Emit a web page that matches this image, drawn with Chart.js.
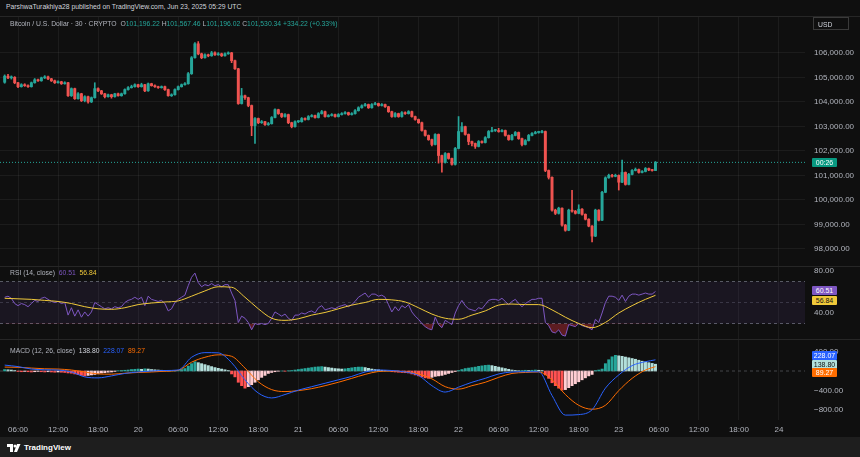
<!DOCTYPE html>
<html>
<head>
<meta charset="utf-8">
<script src="https://cdn.jsdelivr.net/npm/chart.js@4.4.1/dist/chart.umd.min.js"></script>
<style>
  body { margin: 0; width: 860px; height: 457px; overflow: hidden; position: relative;
         background: #0f0f0f; font-family: "Liberation Sans", Arial, sans-serif; }
  .pane { position: absolute; left: 0; }
  canvas { display: block; }
  .txt { position: absolute; white-space: nowrap; font-size: 6.8px; color: #b2b5be; }
  .g { color: #26a69a; }
  .sep { position: absolute; left: 0; width: 860px; height: 1px; background: #262626; }
  .badge { position: absolute; left: 812px; width: 25px; height: 9px; line-height: 9px;
           font-size: 7px; text-align: center; color: #fff; border-radius: 1px; }
</style>
</head>
<body>

<div class="txt" style="left:6px;top:3px;color:#d1d4dc">ParshwaTurakhiya28 published on TradingView.com, Jun 23, 2025 05:29 UTC</div>
<div class="sep" style="top:16px"></div>

<div class="pane" style="top:17px"><canvas id="main" width="860" height="249"></canvas></div>
<div class="sep" style="top:266px"></div>
<div class="pane" style="top:267px"><canvas id="rsi" width="860" height="72"></canvas></div>
<div class="sep" style="top:339px"></div>
<div class="pane" style="top:340px"><canvas id="macd" width="860" height="97"></canvas></div>

<div style="position:absolute;left:0;top:437px;width:860px;height:20px;background:#1e1e1e"></div>

<div class="txt" style="left:10px;top:20px">Bitcoin / U.S. Dollar · 30 · CRYPTO &nbsp;O<span class="g">101,196.22</span> H<span class="g">101,567.46</span> L<span class="g">101,196.02</span> C<span class="g">101,530.34</span> <span class="g">+334.22 (+0.33%)</span></div>
<div class="txt" style="left:813px;top:17px;width:36px;height:13px;line-height:13px;border:1px solid #3a3a3a;padding-left:4px;box-sizing:border-box;color:#d1d4dc">USD</div>
<div class="badge" style="top:158px;background:#089981">00:26</div>

<div class="txt" style="left:10px;top:269px">RSI (14, close) &nbsp;<span style="color:#7e57c2">60.51</span> &nbsp;<span style="color:#f0c93a">56.84</span></div>
<div class="badge" style="top:286px;background:#7e57c2">60.51</div>
<div class="badge" style="top:295.5px;background:#f0c93a;color:#131313">56.84</div>

<div class="txt" style="left:10px;top:347px">MACD (12, 26, close) &nbsp;<span style="color:#d1d4dc">138.80</span> &nbsp;<span style="color:#2962ff">228.07</span> &nbsp;<span style="color:#ff6d00">89.27</span></div>
<div class="badge" style="top:351px;background:#2962ff">228.07</div>
<div class="badge" style="top:359.5px;background:#b2dfdb;color:#131313">138.80</div>
<div class="badge" style="top:368px;background:#ff6d00">89.27</div>

<div style="position:absolute;left:7px;top:443px;display:flex;align-items:center;gap:3px">
  <svg width="14" height="8" viewBox="0 0 14 8"><path d="M0 0h6v8H3V3H0z" fill="#fff"/><circle cx="8" cy="2" r="1.5" fill="#fff"/><path d="M10 0h3.5l-3.5 8H7z" fill="#fff"/></svg>
  <span style="color:#fff;font-weight:bold;font-size:8px">TradingView</span>
</div>

<script>
// 30-minute candles, Jun 19 04:00 .. Jun 23 05:30 (UTC)
const opens = [
  104800, 105050, 104980, 105000, 104780, 104620, 104700, 104660, 104620, 104780,
  104900, 104860, 104980, 105020, 104940, 104860, 104780, 104820, 104740, 104780,
  104250, 104540, 104130, 104330, 104050, 104210, 104000, 104170, 104540, 104450,
  104330, 104210, 104290, 104210, 104330, 104250, 104330, 104500, 104580, 104620,
  104700, 104620, 104700, 104450, 104740, 104660, 104620, 104580, 104620, 104500,
  104250, 104290, 104500, 104620, 104700, 104740, 105150, 105800, 106370, 105960,
  105800, 105920, 105880, 106000, 105920, 105960, 105880, 105960, 106000, 105680,
  105350, 103930, 104250, 104170, 103850, 103030, 103320, 103150, 103190, 103070,
  103110, 103360, 103680, 103520, 103400, 103480, 103150, 102990, 103190, 103190,
  103320, 103280, 103400, 103440, 103360, 103520, 103600, 103400, 103440, 103480,
  103400, 103480, 103520, 103560, 103480, 103520, 103640, 103760, 103840, 103890,
  103760, 103890, 103930, 103850, 103890, 103800, 103600, 103400, 103520, 103400,
  103560, 103520, 103600, 103400, 103280, 103150, 102830, 102630, 102460, 102260,
  102670, 101810, 101530, 101890, 101690, 101450, 102100, 102790, 102990, 102670,
  102380, 102300, 102180, 102380, 102340, 102540, 102790, 102830, 102830, 102790,
  102830, 102630, 102460, 102630, 102750, 102500, 102260, 102420, 102630, 102710,
  102750, 102750, 102790, 101200, 100920, 99580, 99450, 99660, 98970, 98760,
  99580, 99540, 99450, 99620, 99410, 99210, 98930, 98520, 99580, 99170,
  100310, 100900, 101000, 100960, 101000, 100720, 101120, 100630, 101040, 101200,
  101240, 101120, 101160, 101280, 101220, 101196.22
];
const highs = [
  105100, 105120, 105060, 105030, 104800, 104740, 104740, 104690, 104810, 104950,
  104930, 105010, 105070, 105050, 104960, 104890, 104860, 104840, 104820, 104800,
  104570, 104560, 104380, 104350, 104250, 104240, 104200, 104780, 104570, 104470,
  104350, 104320, 104310, 104350, 104360, 104360, 104530, 104620, 104680, 104740,
  104720, 104760, 104720, 104770, 104760, 104690, 104640, 104650, 104640, 104520,
  104330, 104530, 104650, 104730, 104790, 105200, 105850, 106420, 106460, 105990,
  105960, 105950, 106060, 106040, 106010, 105990, 106000, 106040, 106020, 105700,
  105370, 104550, 104280, 104190, 103870, 103360, 103340, 103240, 103210, 103160,
  103400, 103720, 103700, 103540, 103520, 103500, 103170, 103230, 103240, 103360,
  103350, 103440, 103480, 103460, 103560, 103650, 103620, 103480, 103520, 103500,
  103520, 103560, 103600, 103580, 103560, 103680, 103800, 103880, 103940, 103910,
  103930, 103980, 103950, 103930, 103910, 103820, 103620, 103560, 103540, 103600,
  103590, 103640, 103620, 103420, 103300, 103170, 102850, 102650, 102480, 102700,
  102690, 101830, 101930, 101910, 101710, 102140, 103400, 103150, 103010, 102690,
  102400, 102320, 102420, 102410, 102580, 102830, 102960, 102880, 102920, 102870,
  102850, 102650, 102670, 102790, 102770, 102520, 102460, 102670, 102750, 102800,
  102800, 102840, 102810, 101220, 100940, 99620, 99700, 99680, 99000, 99620,
  100390, 99570, 99800, 99640, 99430, 99230, 98950, 99620, 99600, 100350,
  100940, 101050, 101040, 101050, 101020, 101620, 101140, 101080, 101240, 101300,
  101260, 101200, 101320, 101300, 101250, 101567.46
];
const lows = [
  104760, 104950, 104930, 104740, 104580, 104600, 104630, 104590, 104600, 104760,
  104830, 104840, 104950, 104910, 104830, 104750, 104760, 104710, 104720, 104220,
  104220, 104100, 104110, 104010, 104000, 103950, 103970, 104150, 104420, 104300,
  104160, 104190, 104150, 104190, 104230, 104230, 104310, 104480, 104560, 104600,
  104590, 104600, 104420, 104430, 104640, 104590, 104550, 104560, 104470, 104230,
  104220, 104270, 104480, 104600, 104680, 104720, 105120, 105780, 105920, 105760,
  105780, 105840, 105860, 105890, 105900, 105850, 105860, 105940, 105600, 105320,
  103900, 103910, 104100, 103800, 102620, 102300, 103110, 103120, 103040, 103040,
  103090, 103340, 103490, 103360, 103380, 103110, 102940, 102970, 103150, 103170,
  103250, 103260, 103380, 103330, 103340, 103500, 103370, 103380, 103420, 103370,
  103380, 103460, 103500, 103450, 103460, 103500, 103620, 103740, 103820, 103730,
  103740, 103870, 103820, 103830, 103770, 103570, 103370, 103380, 103370, 103380,
  103490, 103500, 103370, 103250, 103120, 102800, 102600, 102430, 102200, 102240,
  101500, 101130, 101500, 101660, 101420, 101420, 102080, 102770, 102640, 102250,
  102200, 102100, 102160, 102310, 102320, 102520, 102770, 102790, 102760, 102770,
  102600, 102430, 102440, 102610, 102470, 102200, 102240, 102400, 102610, 102690,
  102720, 102730, 101150, 100850, 99540, 99400, 99420, 98930, 98720, 98740,
  99500, 99420, 99430, 99380, 99180, 98900, 98280, 98500, 99140, 99150,
  100290, 100880, 100930, 100940, 100400, 100700, 100600, 100610, 101020, 101180,
  101090, 101100, 101140, 101190, 101170, 101196.02
];
const closes = [
  105050, 104980, 105000, 104780, 104620, 104700, 104660, 104620, 104780, 104900,
  104860, 104980, 105020, 104940, 104860, 104780, 104820, 104740, 104780, 104250,
  104540, 104130, 104330, 104050, 104210, 104000, 104170, 104540, 104450, 104330,
  104210, 104290, 104210, 104330, 104250, 104330, 104500, 104580, 104620, 104700,
  104620, 104700, 104450, 104740, 104660, 104620, 104580, 104620, 104500, 104250,
  104290, 104500, 104620, 104700, 104740, 105150, 105800, 106370, 105960, 105800,
  105920, 105880, 106000, 105920, 105960, 105880, 105960, 106000, 105680, 105350,
  103930, 104250, 104170, 103850, 103030, 103320, 103150, 103190, 103070, 103110,
  103360, 103680, 103520, 103400, 103480, 103150, 102990, 103190, 103190, 103320,
  103280, 103400, 103440, 103360, 103520, 103600, 103400, 103440, 103480, 103400,
  103480, 103520, 103560, 103480, 103520, 103640, 103760, 103840, 103890, 103760,
  103890, 103930, 103850, 103890, 103800, 103600, 103400, 103520, 103400, 103560,
  103520, 103600, 103400, 103280, 103150, 102830, 102630, 102460, 102260, 102670,
  101810, 101530, 101890, 101690, 101450, 102100, 102790, 102990, 102670, 102380,
  102300, 102180, 102380, 102340, 102540, 102790, 102830, 102830, 102790, 102830,
  102630, 102460, 102630, 102750, 102500, 102260, 102420, 102630, 102710, 102750,
  102750, 102790, 101200, 100920, 99580, 99450, 99660, 98970, 98760, 99580,
  99540, 99450, 99620, 99410, 99210, 98930, 98520, 99580, 99170, 100310,
  100900, 101000, 100960, 101000, 100720, 101120, 100630, 101040, 101200, 101240,
  101120, 101160, 101280, 101220, 101196.22, 101530.34
];

// RSI (14) per candle
const rsi = [
  55, 56, 54, 49, 47, 49, 48, 46, 49, 52,
  51, 54, 55, 53, 51, 50, 51, 49, 50, 38,
  45, 37, 43, 36, 41, 37, 41, 50, 48, 46,
  44, 45, 44, 46, 45, 46, 50, 52, 53, 55,
  53, 55, 47, 56, 53, 52, 51, 52, 49, 42,
  44, 50, 53, 55, 57, 66, 74, 78, 69, 65,
  67, 66, 68, 66, 67, 65, 67, 67, 59, 52,
  31, 37, 35, 31, 24, 30, 29, 30, 29, 30,
  35, 41, 39, 37, 39, 35, 33, 38, 38, 40,
  39, 41, 42, 40, 45, 47, 43, 44, 45, 44,
  46, 47, 48, 46, 48, 51, 55, 57, 59, 55,
  58, 58, 56, 57, 55, 48, 41, 46, 42, 47,
  45, 48, 41, 37, 34, 30, 27, 25, 24, 36,
  29, 26, 33, 31, 29, 40, 47, 52, 47, 44,
  43, 42, 45, 44, 48, 52, 53, 53, 52, 54,
  51, 48, 51, 53, 49, 46, 49, 51, 53, 53,
  54, 54, 31, 28, 22, 21, 24, 19, 18, 29,
  28, 27, 30, 28, 27, 26, 24, 34, 31, 40,
  50, 56, 56, 55, 52, 57, 51, 56, 58, 58,
  57, 58, 59, 58, 58, 60.51
];

// MACD histogram per candle
const hist = [
  30, 25, 20, 10, -10, -15, -10, -15, -20, -15,
  -10, -15, -20, -15, -20, -25, -20, -25, -30, -40,
  -45, -60, -75, -90, -100, -90, -80, -70, -50, -40,
  -35, -25, -20, -10, 5, 10, 15, 20, 30, 35,
  40, 35, 45, 40, 30, 25, 20, 15, 10, 5,
  5, 10, 15, 30, 50, 100, 150, 190, 170, 150,
  130, 110, 90, 70, 55, 40, 25, 10, -60, -120,
  -230, -300, -350, -320, -280, -230, -180, -130, -90, -50,
  -30, -15, -5, 0, -5, 5, 10, 20, 30, 40,
  50, 60, 70, 80, 85, 90, 80, 70, 60, 50,
  45, 40, 45, 55, 65, 75, 80, 80, 70, 55,
  40, 30, 25, 15, 10, 0, -15, -20, -25, -30,
  -35, -40, -60, -80, -100, -120, -140, -150, -130, -110,
  -100, -90, -70, -50, -30, -10, 10, 30, 50, 60,
  70, 80, 95, 105, 115, 120, 110, 95, 80, 65,
  50, 35, 20, 10, 5, 10, 15, 10, 15, 20,
  15, 10, -80, -150, -240, -300, -350, -390, -380, -340,
  -300, -260, -220, -180, -140, -100, -70, 10, 20, 40,
  150, 230, 290, 320, 310, 300, 285, 270, 255, 240,
  220, 200, 185, 170, 155, 138.80
];

// smooth lines read every 2 hours (half-hour slots counted from Jun 19 00:00)
const sampleSlots = [
  8, 12, 16, 20, 24, 28, 32, 36, 40, 44,
  48, 52, 56, 60, 64, 68, 72, 76, 80, 84,
  88, 92, 96, 100, 104, 108, 112, 116, 120, 124,
  128, 132, 136, 140, 144, 148, 152, 156, 160, 164,
  168, 172, 176, 180, 184, 188, 192, 196, 200, 203
];
const rsiMa = [
  54, 53.5, 53, 52, 51, 49, 46, 44, 43.5, 45,
  48, 49.5, 50.5, 51.5, 56, 61, 65, 64.5, 55, 44,
  35, 33, 34.5, 38, 40.5, 44, 47.5, 50, 53, 52.5,
  50.5, 45, 39, 35, 34, 38, 42, 47.5, 48.5, 48,
  48, 43, 36, 30, 26, 31, 40, 47, 53, 56.84
];
const macdLine = [
  120, 90, 40, 25, 20, -20, -120, -140, -100, -50,
  -20, 0, 10, 20, 280, 375, 370, 170, -180, -450,
  -550, -480, -390, -320, -250, -180, -110, -20, 20, 10,
  -20, -90, -300, -430, -330, -230, -150, -60, -20, -15,
  -15, -500, -900, -890, -790, -350, -80, 110, 190, 228.07
];
const signalLine = [
  80, 75, 60, 45, 40, 20, -20, -60, -65, -45,
  -30, -20, -5, 15, 180, 280, 330, 300, 60, -220,
  -380, -420, -400, -360, -300, -230, -150, -70, -10, 0,
  -20, -60, -160, -320, -370, -300, -230, -130, -50, -30,
  -20, -180, -480, -700, -780, -700, -400, -150, 20, 89.27
];

// one label every 12 slots (6 hours) from Jun 19 00:00
const tickLabels = ['19', '06:00', '12:00', '18:00', '20', '06:00', '12:00', '18:00', '21',
  '06:00', '12:00', '18:00', '22', '06:00', '12:00', '18:00', '23', '06:00', '12:00', '18:00', '24'];
const priceTicks = [98000, 99000, 100000, 101000, 102000, 103000, 104000, 105000, 106000];
const rsiTicks = [80, 40];
const macdTicks = [400, -400, -800];

const FIRST_SLOT = 8;           // Jun 19 04:00
const T_MIN = 6.6, T_MAX = 247.8;
const GRID = 'rgba(255,255,255,0.055)';
const TXT = '#b2b5be';
const UP = '#26a69a', DOWN = '#ef5350';

Chart.defaults.font.family = '"Liberation Sans", Arial, sans-serif';
Chart.defaults.color = TXT;
Chart.defaults.animation = false;

const slots = closes.map((_, i) => FIRST_SLOT + i);
const lastPrice = closes[closes.length - 1];
const candleColors = closes.map((c, i) => c >= opens[i] ? UP : DOWN);
const histColors = hist.map((h, i) => {
  const prev = i ? hist[i - 1] : 0;
  if (h >= 0) return h >= prev ? '#26a69a' : '#b2dfdb';
  return h < prev ? '#ff5252' : '#ffcdd2';
});

const noPad = s => { s.paddingTop = s.paddingBottom = s.paddingLeft = s.paddingRight = 0; };

function xAxis(showLabels) {
  return {
    type: 'linear', min: T_MIN, max: T_MAX, offset: false,
    grid: { color: GRID, drawTicks: false, offset: false },
    border: { display: false },
    afterBuildTicks: s => {
      s.ticks = tickLabels.map((_, k) => k * 12).filter(t => t > T_MIN && t < T_MAX).map(v => ({ value: v }));
    },
    ticks: {
      display: showLabels, autoSkip: false, maxRotation: 0, padding: 5,
      color: TXT, font: { size: 8 },
      callback: v => tickLabels[Math.round(v / 12)],
    },
    afterFit: s => { s.height = showLabels ? 17 : 0; noPad(s); },
  };
}

function yAxis(min, max, ticks, fmt, grid) {
  return {
    position: 'right', min, max,
    grid: { color: grid ? GRID : 'transparent', drawTicks: false },
    border: { display: false },
    afterBuildTicks: s => { s.ticks = ticks.map(v => ({ value: v })); },
    ticks: { color: TXT, font: { size: 8 }, padding: 9, callback: fmt },
    afterFit: s => { s.width = 55; noPad(s); },
  };
}

const baseOpts = {
  responsive: false, events: [],
  layout: { padding: 0 },
  plugins: { legend: { display: false }, tooltip: { enabled: false } },
};

const flat = v => [{ x: T_MIN, y: v }, { x: T_MAX, y: v }];

// price pane
new Chart(document.getElementById('main'), {
  type: 'bar',
  data: {
    datasets: [
      { type: 'line', data: flat(lastPrice), borderColor: UP, borderWidth: 1, borderDash: [1, 2], pointRadius: 0, order: 3 },
      { data: slots.map((t, i) => ({ x: t, y: [lows[i], highs[i]] })), backgroundColor: candleColors,
        barThickness: 1, grouped: false, order: 2 },
      { data: slots.map((t, i) => ({ x: t, y: [opens[i], closes[i]] })), backgroundColor: candleColors,
        barThickness: 2.3, minBarLength: 1, grouped: false, order: 1 },
    ],
  },
  options: {
    ...baseOpts,
    scales: {
      x: xAxis(false),
      y: yAxis(97301, 107463, priceTicks,
        v => v.toLocaleString('en-US', { minimumFractionDigits: 2, maximumFractionDigits: 2 }), true),
    },
  },
});

// RSI pane
const band = (v, extra) => ({
  data: flat(v), borderColor: 'rgba(120,123,134,0.7)', borderWidth: 1, borderDash: [3, 3],
  pointRadius: 0, fill: false, order: 5, ...extra,
});
new Chart(document.getElementById('rsi'), {
  type: 'line',
  data: {
    datasets: [
      band(70, { fill: '+1', backgroundColor: 'rgba(126,87,194,0.1)' }),
      band(30),
      band(50, { borderColor: 'rgba(120,123,134,0.35)' }),
      { data: slots.map((t, i) => ({ x: t, y: rsi[i] })), borderColor: '#7e57c2', borderWidth: 1, pointRadius: 0,
        fill: { target: { value: 30 }, above: 'rgba(0,0,0,0)', below: 'rgba(242,54,69,0.35)' }, order: 1 },
      { data: sampleSlots.map((t, i) => ({ x: t, y: rsiMa[i] })), borderColor: '#f0c93a', borderWidth: 1,
        pointRadius: 0, cubicInterpolationMode: 'monotone', order: 0 },
    ],
  },
  options: {
    ...baseOpts,
    scales: { x: xAxis(false), y: yAxis(15.24, 83.8, rsiTicks, v => v.toFixed(2), false) },
  },
});

// MACD pane
new Chart(document.getElementById('macd'), {
  type: 'bar',
  data: {
    datasets: [
      { type: 'line', data: sampleSlots.map((t, i) => ({ x: t, y: macdLine[i] })), borderColor: '#2962ff',
        borderWidth: 1, pointRadius: 0, cubicInterpolationMode: 'monotone', order: 0 },
      { type: 'line', data: sampleSlots.map((t, i) => ({ x: t, y: signalLine[i] })), borderColor: '#ff6d00',
        borderWidth: 1, pointRadius: 0, cubicInterpolationMode: 'monotone', order: 0 },
      { type: 'line', data: flat(0), borderColor: 'rgba(120,123,134,0.5)', borderWidth: 1, borderDash: [3, 3],
        pointRadius: 0, order: 1 },
      { data: slots.map((t, i) => ({ x: t, y: hist[i] })), backgroundColor: histColors,
        barThickness: 2.3, grouped: false, order: 2 },
    ],
  },
  options: {
    ...baseOpts,
    scales: {
      x: xAxis(true),
      y: yAxis(-1000, 632.7, macdTicks, v => v.toFixed(2).replace('-', '\u2212'), false),
    },
  },
});
</script>
</body>
</html>
